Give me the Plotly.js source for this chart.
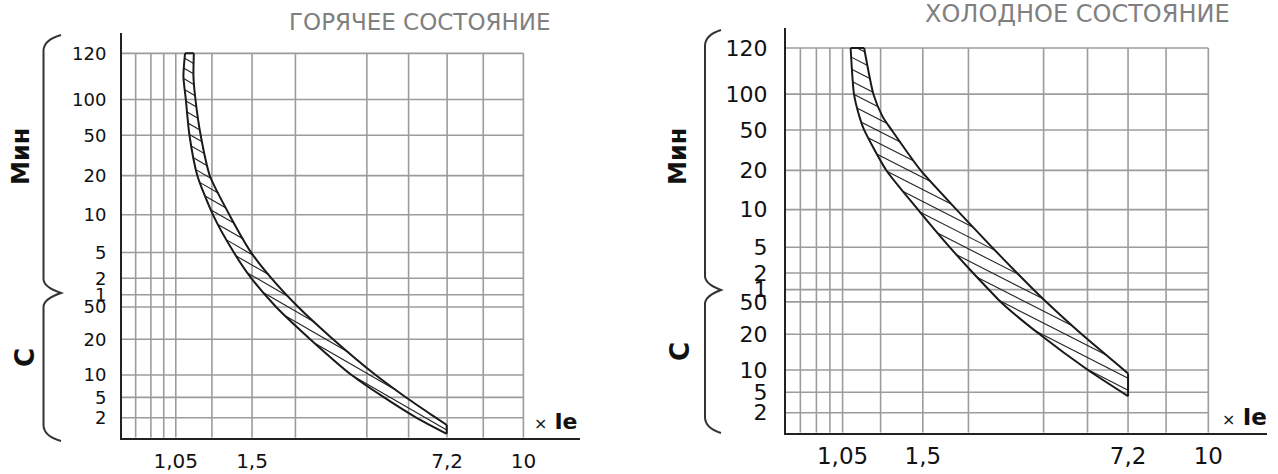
<!DOCTYPE html>
<html><head><meta charset="utf-8">
<script src="https://cdn.plot.ly/plotly-3.0.1.min.js"></script>
<style>html,body{margin:0;padding:0;background:#fff}#chart{width:1278px;height:474px}</style>
</head><body><div id="chart"></div>
<script>
// ---- axis grid (schematic scale, 0..100 = grid box) ----
const xGridVals = [3.4, 7.2, 10.4, 13.4, 22.4, 32.4, 43.2, 61, 71.4, 81, 90, 100];
const xTickVals = [13.4, 32.4, 81, 100];
const xTickText = ['1,05', '1,5', '7,2', '10'];
const yGridVals = [100, 88, 78.7, 68.2, 58, 48.2, 41.5, 37.2, 34, 25.6, 16.3, 10.5, 5.2];
const yTickText = ['120', '100', '50', '20', '10', '5', '2', '1', '50', '20', '10', '5', '2'];

// ---- hot state band (ГОРЯЧЕЕ СОСТОЯНИЕ) ----
const hotUpperX = [17.9, 17.8, 18.3, 19.6, 21.9, 26.8, 32.1, 37.2, 43.9, 52.5, 63.2, 70.6, 77.9, 80.9];
const hotUpperY = [100, 94, 88, 78.7, 68.1, 57.9, 48.3, 41.5, 34, 25.7, 16.3, 10.6, 5.4, 3.3];
const hotLowerX = [15.7, 15.3, 15.9, 16.8, 18.8, 22.7, 27.8, 32.2, 38.4, 46.8, 57.2, 65.1, 73.5, 80.9];
const hotLowerY = [100, 94, 88, 78.7, 68.1, 57.9, 48.3, 41.5, 34, 25.7, 16.3, 10.6, 5.1, 1.0];

// ---- cold state band (ХОЛОДНОЕ СОСТОЯНИЕ) ----
const coldUpperX = [18.5, 20.7, 22.9, 25.0, 31.8, 40.2, 48.7, 54.7, 58.7, 61.9, 69.9, 81.0];
const coldUpperY = [100, 88, 82.1, 78.7, 68.3, 58.2, 48.3, 41.5, 37.1, 33.7, 25.7, 15.4];
const coldLowerX = [15.3, 16.1, 17.4, 18.5, 23.7, 31.1, 38.7, 44.3, 48.1, 51.1, 59.9, 71.5, 81.0];
const coldLowerY = [100, 88, 82.1, 78.7, 68.3, 58.2, 48.3, 41.5, 37.1, 33.7, 25.7, 16.3, 9.5];

const W = 1278, H = 474;
const panels = [
  {xa: 'x', ya: 'y', x0: 122, x1: 580, yb: 437.7, yt: 33, xr: 114.1, yr: 105.3,
   U: [hotUpperX, hotUpperY], L: [hotLowerX, hotLowerY], ang: 30, gap: 10.5},
  {xa: 'x2', ya: 'y2', x0: 786, x1: 1267, yb: 432.7, yt: 28, xr: 113.9, yr: 105.2,
   U: [coldUpperX, coldUpperY], L: [coldLowerX, coldLowerY], ang: 27, gap: 12}
];

function hatch(Lx, Ly, Ux, Uy, sx, sy, angleDeg, gap) {
  const P = [];
  for (let i = 0; i < Lx.length; i++) P.push([Lx[i] * sx, Ly[i] * sy]);
  for (let i = Ux.length - 1; i >= 0; i--) P.push([Ux[i] * sx, Uy[i] * sy]);
  const t = Math.tan(angleDeg * Math.PI / 180);
  const fs = P.map(p => p[1] + p[0] * t);
  const fmin = Math.min(...fs), fmax = Math.max(...fs);
  const xs = [], ys = [];
  for (let c = fmin + gap * 0.5; c < fmax; c += gap) {
    const hits = [];
    for (let i = 0; i < P.length; i++) {
      const j = (i + 1) % P.length;
      const fa = fs[i] - c, fb = fs[j] - c;
      if ((fa < 0) !== (fb < 0)) {
        const s = fa / (fa - fb);
        hits.push(P[i][0] + s * (P[j][0] - P[i][0]));
      }
    }
    hits.sort((a, b) => a - b);
    for (let k = 0; k + 1 < hits.length; k += 2) {
      xs.push(hits[k] / sx, hits[k + 1] / sx, null);
      ys.push((c - hits[k] * t) / sy, (c - hits[k + 1] * t) / sy, null);
    }
  }
  return {x: xs, y: ys};
}

const traces = [];
const gridColor = '#9c9c9c';
panels.forEach(p => {
  const vx = [], vy = [], hx = [], hy = [];
  xGridVals.forEach(v => { vx.push(v, v, null); vy.push(0, 100, null); });
  yGridVals.forEach(v => { hx.push(0, 100, null); hy.push(v, v, null); });
  traces.push({x: vx, y: vy, xaxis: p.xa, yaxis: p.ya, mode: 'lines', line: {color: gridColor, width: 1.6}, hoverinfo: 'skip'});
  traces.push({x: hx, y: hy, xaxis: p.xa, yaxis: p.ya, mode: 'lines', line: {color: gridColor, width: 1.6}, hoverinfo: 'skip'});
  const sx = (p.x1 - p.x0) / p.xr, sy = (p.yb - p.yt) / p.yr;
  const h = hatch(p.L[0], p.L[1], p.U[0], p.U[1], sx, sy, p.ang, p.gap);
  traces.push({x: h.x, y: h.y, xaxis: p.xa, yaxis: p.ya, mode: 'lines', line: {color: '#222', width: 1.1}, hoverinfo: 'skip'});
  [p.L, p.U].forEach(c => {
    traces.push({x: c[0], y: c[1], xaxis: p.xa, yaxis: p.ya, mode: 'lines', line: {color: '#1a1a1a', width: 2, shape: 'spline', smoothing: 0.6}, hoverinfo: 'skip'});
  });
  const n = p.L[0].length - 1, m = p.U[0].length - 1;
  traces.push({x: [p.L[0][0], p.U[0][0], null, p.L[0][n], p.U[0][m]],
               y: [p.L[1][0], p.U[1][0], null, p.L[1][n], p.U[1][m]],
               xaxis: p.xa, yaxis: p.ya, mode: 'lines', line: {color: '#1a1a1a', width: 2}, hoverinfo: 'skip'});
});

function axisX(p, fs, standoff) {
  return {domain: [p.x0 / W, p.x1 / W], range: [0, p.xr], anchor: p.ya, showgrid: false, zeroline: false,
    showline: true, linecolor: '#222', linewidth: 2, tickmode: 'array', tickvals: xTickVals, ticktext: xTickText,
    ticks: '', ticklabelstandoff: standoff, tickfont: {family: 'DejaVu Sans', size: fs, color: '#111'}, fixedrange: true};
}
function axisY(p, fs, standoff) {
  return {domain: [1 - p.yb / H, 1 - p.yt / H], range: [0, p.yr], anchor: p.xa, showgrid: false, zeroline: false,
    showline: true, linecolor: '#222', linewidth: 2, tickmode: 'array', tickvals: yGridVals, ticktext: yTickText,
    ticks: '', ticklabelstandoff: standoff, tickfont: {family: 'DejaVu Sans', size: fs, color: '#111'}, fixedrange: true};
}

const px = (x, y) => (x / W).toFixed(5) + ',' + (1 - y / H).toFixed(5);
function brace(xb, xt, top, mid, bot) {
  return 'M' + px(xt, top) + ' Q' + px(xb, top + 5) + ' ' + px(xb, top + 16) +
    ' L' + px(xb, mid - 14) + ' Q' + px(xb, mid - 6) + ' ' + px(xt, mid) +
    ' Q' + px(xb, mid + 6) + ' ' + px(xb, mid + 14) +
    ' L' + px(xb, bot - 16) + ' Q' + px(xb, bot - 5) + ' ' + px(xt, bot);
}
const shapes = [
  {type: 'path', xref: 'paper', yref: 'paper', path: brace(43.5, 61, 35, 293, 441), line: {color: '#333', width: 2}},
  {type: 'path', xref: 'paper', yref: 'paper', path: brace(705, 721, 30, 290, 433), line: {color: '#333', width: 2}}
];

function ann(x, y, text, size, opts) {
  return Object.assign({xref: 'paper', yref: 'paper', x: x / W, y: 1 - y / H, text: text, showarrow: false,
    xanchor: 'center', yanchor: 'middle', font: {family: 'DejaVu Sans', size: size, color: '#111'}}, opts || {});
}
const annotations = [
  ann(420, 22, 'ГОРЯЧЕЕ СОСТОЯНИЕ', 23, {font: {family: 'DejaVu Sans', size: 23, color: '#808080'}}),
  ann(1077, 14, 'ХОЛОДНОЕ СОСТОЯНИЕ', 24, {font: {family: 'DejaVu Sans', size: 24, color: '#808080'}}),
  ann(21, 157, '<b>Мин</b>', 24, {textangle: -90}),
  ann(25, 358, '<b>С</b>', 26, {textangle: -90}),
  ann(678, 157, '<b>Мин</b>', 24, {textangle: -90}),
  ann(680, 352, '<b>С</b>', 26, {textangle: -90}),
  ann(556, 421, '<span style="font-size:16px">×</span> <b>Ie</b>', 22),
  ann(1244, 417, '<span style="font-size:16px">×</span> <b>Ie</b>', 23)
];

const layout = {
  width: W, height: H, margin: {l: 0, r: 0, t: 0, b: 0}, paper_bgcolor: '#fff', plot_bgcolor: '#fff',
  showlegend: false, hovermode: false,
  xaxis: axisX(panels[0], 20, 4), yaxis: axisY(panels[0], 18, 10),
  xaxis2: axisX(panels[1], 23, 2), yaxis2: axisY(panels[1], 22, 12),
  shapes: shapes, annotations: annotations
};
Plotly.newPlot('chart', traces, layout, {staticPlot: true, displayModeBar: false});
</script></body></html>
